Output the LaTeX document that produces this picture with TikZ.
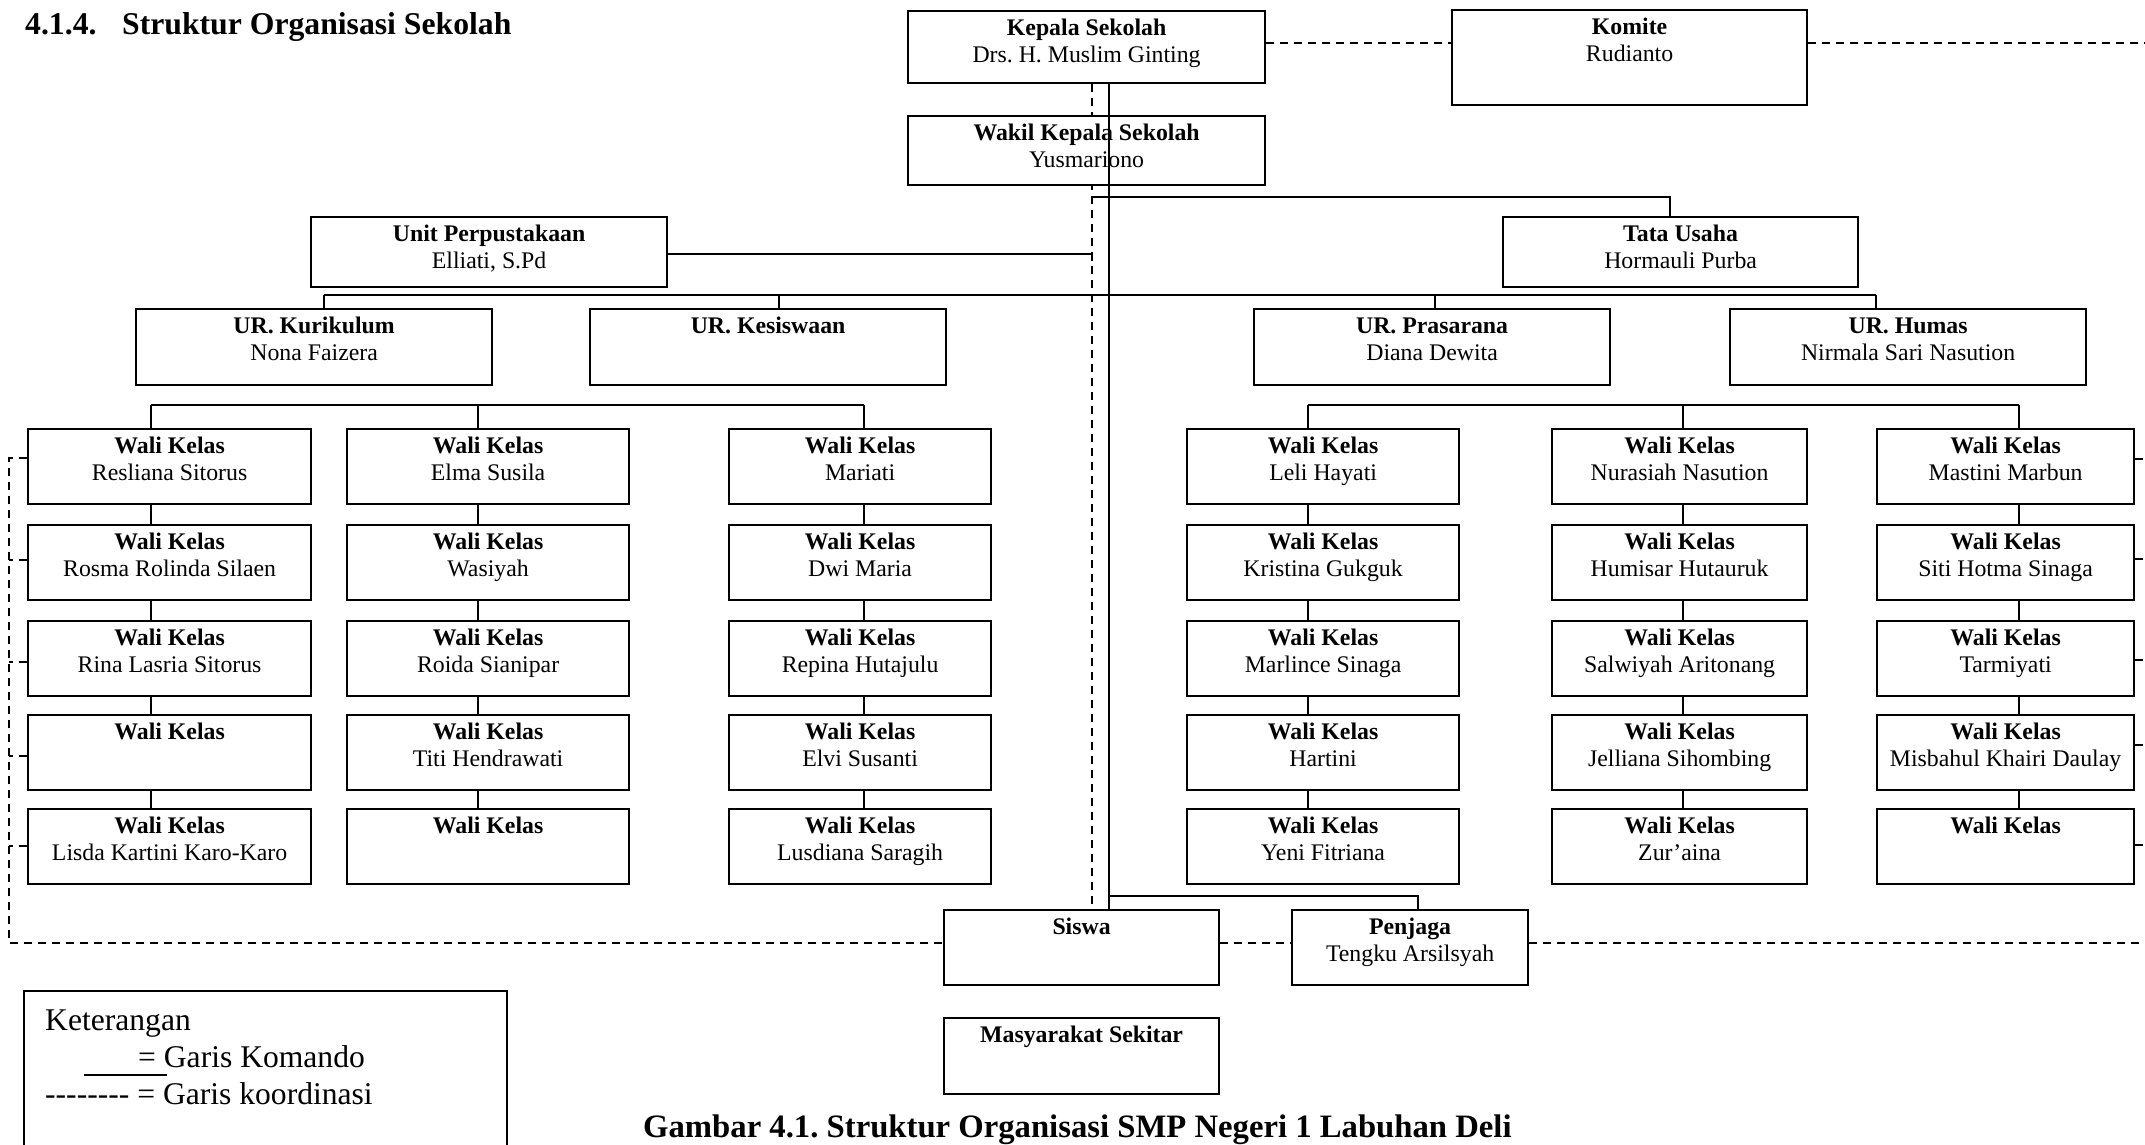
\documentclass[tikz,border=0pt]{standalone}
\usepackage{fontspec}
\setmainfont{Liberation Serif}
\frenchspacing
\pgfdeclarelayer{bg}
\pgfsetlayers{bg,main}
\tikzset{
  obox/.style={draw, line width=2.2pt, fill=white, inner sep=0pt, anchor=north west,
    font=\fontsize{23.8}{27}\selectfont},
  cline/.style={line width=1.8pt},
  dline/.style={line width=1.8pt, dash pattern=on 8pt off 6pt},
  lbl/.style={inner sep=0pt, anchor=base west},
  bigbold/.style={font=\fontsize{31.7}{36}\selectfont\bfseries},
  capbold/.style={font=\fontsize{32.7}{36}\selectfont\bfseries},
  bigreg/.style={font=\fontsize{31.6}{36}\selectfont},
}
\newcommand{\OBox}[7]{%
  \node[obox] (#1) at (#2,#3) {\parbox[c][\dimexpr #5pt-#3pt\relax][t]{\dimexpr #4pt-#2pt\relax}{\centering\rule{0pt}{24pt}\textbf{#6}\if\relax\detokenize{#7}\relax\else\\#7\fi}};}
\begin{document}
\begin{tikzpicture}[x=1pt,y=-1pt]
\useasboundingbox (0,0) rectangle (2145,1145);
\begin{pgfonlayer}{bg}
\fill[white] (0,0) rectangle (2145,1145);
\end{pgfonlayer}

\coordinate (xd) at (1092,0);
\coordinate (xs) at (1109,0);
\coordinate (redge) at (2145,0);
\coordinate (ledge) at (9,0);
\coordinate (ca) at (151,0);
\coordinate (cb) at (478,0);
\coordinate (cc) at (864,0);
\coordinate (cd) at (1308,0);
\coordinate (ce) at (1683,0);
\coordinate (cf) at (2019,0);

% title
\node[lbl, bigbold] (title) at (25,35) {\makebox[97pt][l]{4.1.4.}Struktur Organisasi Sekolah};

% top boxes
\OBox{kepala}{907}{10}{1264}{82}{Kepala Sekolah}{Drs. H. Muslim Ginting}
\OBox{komite}{1451}{9}{1806}{104}{Komite}{Rudianto}
\OBox{wakil}{907}{115}{1264}{184}{Wakil Kepala Sekolah}{Yusmariono}
\OBox{unit}{310}{216}{666}{286}{Unit Perpustakaan}{Elliati, S.Pd}
\OBox{tata}{1502}{216}{1857}{286}{Tata Usaha}{Hormauli Purba}
\OBox{kur}{135}{308}{491}{384}{UR. Kurikulum}{Nona Faizera}
\OBox{kes}{589}{308}{945}{384}{UR. Kesiswaan}{}
\OBox{pras}{1253}{308}{1609}{384}{UR. Prasarana}{Diana Dewita}
\OBox{hum}{1729}{308}{2085}{384}{UR. Humas}{Nirmala Sari Nasution}

% column 1
\OBox{a1}{27}{428}{310}{503}{Wali Kelas}{Resliana Sitorus}
\OBox{a2}{27}{524}{310}{599}{Wali Kelas}{Rosma Rolinda Silaen}
\OBox{a3}{27}{620}{310}{695}{Wali Kelas}{Rina Lasria Sitorus}
\OBox{a4}{27}{714}{310}{789}{Wali Kelas}{}
\OBox{a5}{27}{808}{310}{883}{Wali Kelas}{Lisda Kartini Karo-Karo}
% column 2
\OBox{b1}{346}{428}{628}{503}{Wali Kelas}{Elma Susila}
\OBox{b2}{346}{524}{628}{599}{Wali Kelas}{Wasiyah}
\OBox{b3}{346}{620}{628}{695}{Wali Kelas}{Roida Sianipar}
\OBox{b4}{346}{714}{628}{789}{Wali Kelas}{Titi Hendrawati}
\OBox{b5}{346}{808}{628}{883}{Wali Kelas}{}
% column 3
\OBox{c1}{728}{428}{990}{503}{Wali Kelas}{Mariati}
\OBox{c2}{728}{524}{990}{599}{Wali Kelas}{Dwi Maria}
\OBox{c3}{728}{620}{990}{695}{Wali Kelas}{Repina Hutajulu}
\OBox{c4}{728}{714}{990}{789}{Wali Kelas}{Elvi Susanti}
\OBox{c5}{728}{808}{990}{883}{Wali Kelas}{Lusdiana Saragih}
% column 4
\OBox{d1}{1186}{428}{1458}{503}{Wali Kelas}{Leli Hayati}
\OBox{d2}{1186}{524}{1458}{599}{Wali Kelas}{Kristina Gukguk}
\OBox{d3}{1186}{620}{1458}{695}{Wali Kelas}{Marlince Sinaga}
\OBox{d4}{1186}{714}{1458}{789}{Wali Kelas}{Hartini}
\OBox{d5}{1186}{808}{1458}{883}{Wali Kelas}{Yeni Fitriana}
% column 5
\OBox{e1}{1551}{428}{1806}{503}{Wali Kelas}{Nurasiah Nasution}
\OBox{e2}{1551}{524}{1806}{599}{Wali Kelas}{Humisar Hutauruk}
\OBox{e3}{1551}{620}{1806}{695}{Wali Kelas}{Salwiyah Aritonang}
\OBox{e4}{1551}{714}{1806}{789}{Wali Kelas}{Jelliana Sihombing}
\OBox{e5}{1551}{808}{1806}{883}{Wali Kelas}{Zur’aina}
% column 6
\OBox{f1}{1876}{428}{2133}{503}{Wali Kelas}{Mastini Marbun}
\OBox{f2}{1876}{524}{2133}{599}{Wali Kelas}{Siti Hotma Sinaga}
\OBox{f3}{1876}{620}{2133}{695}{Wali Kelas}{Tarmiyati}
\OBox{f4}{1876}{714}{2133}{789}{Wali Kelas}{Misbahul Khairi Daulay}
\OBox{f5}{1876}{808}{2133}{883}{Wali Kelas}{}

% bottom boxes
\OBox{siswa}{943}{909}{1218}{984}{Siswa}{}
\OBox{penjaga}{1291}{909}{1527}{984}{Penjaga}{Tengku Arsilsyah}
\OBox{masy}{943}{1017}{1218}{1093}{Masyarakat Sekitar}{}

% coordination lines (dashed)
\coordinate (ky) at (0,43);
\draw[dline] (kepala.east |- ky) -- (komite.west |- ky);
\draw[dline] (komite.east |- ky) -- (redge |- ky);
\begin{pgfonlayer}{bg}
\draw[dline] (xd |- kepala.south) -- (xd |- siswa.north);
\end{pgfonlayer}
\coordinate (dy) at (0,943);
\coordinate (t1) at (0,458);
\draw[dline] (a1.west |- t1) -- (ledge |- t1) -- (ledge |- dy) -- (siswa.west |- dy);
\foreach \r/\y in {2/560,3/662,4/756,5/846}{
  \coordinate (tt) at (0,\y);
  \draw[dline] (a\r.west |- tt) -- (ledge |- tt);
}
\foreach \r/\y in {1/459,2/559,3/660,4/745,5/845}{
  \coordinate (tt) at (0,\y);
  \draw[dline] (f\r.east |- tt) -- (redge |- tt);
}
\draw[dline] (siswa.east |- dy) -- (penjaga.west |- dy);
\draw[dline] (penjaga.east |- dy) -- (redge |- dy);

% command lines (solid)
\draw[cline] (xs |- kepala.south) -- (xs |- siswa.north);
\coordinate (jy) at (0,896);
\coordinate (pj) at (1418,896);
\draw[cline] (xs |- jy) -- (pj) -- (pj |- penjaga.north);
\coordinate (ty) at (0,197);
\coordinate (tj) at (1670,197);
\draw[cline] (xd |- ty) -- (tj) -- (tj |- tata.north);
\coordinate (uj) at (1092,254);
\draw[cline] (unit.east |- uj) -- (uj) -- ++(0,7);
\coordinate (dkur) at (324,295);
\coordinate (dkes) at (779,295);
\coordinate (dpras) at (1435,295);
\coordinate (dhum) at (1876,295);
\draw[cline] (dkur) -- (dhum);
\foreach \n in {kur,kes,pras,hum}{
  \draw[cline] (d\n) -- (d\n |- \n.north);
}
\coordinate (ly) at (0,405);
\draw[cline] (ca |- ly) -- (cc |- ly);
\draw[cline] (cd |- ly) -- (cf |- ly);
\foreach \c in {a,b,c,d,e,f}{
  \draw[cline] (c\c |- ly) -- (c\c |- \c1.north);
  \foreach \r [evaluate=\r as \s using int(\r+1)] in {1,2,3,4}{
    \draw[cline] (c\c |- \c\r.south) -- (c\c |- \c\s.north);
  }
}

% legend
\draw[line width=2pt] (24,1150) -- (24,991) -- (507,991) -- (507,1150);
\node[lbl, bigreg] (ket) at (45,1030) {Keterangan};
\node[lbl, bigreg] (kom) at (138,1067) {= Garis Komando};
\draw[line width=1.6pt] (84,1075) -- (167,1075);
\node[lbl, bigreg] (koor) at (45,1104) {-\kern0pt-\kern0pt-\kern0pt-\kern0pt-\kern0pt-\kern0pt-\kern0pt- = Garis koordinasi};

% caption
\node[lbl, capbold] (caption) at (643,1137) {Gambar 4.1. Struktur Organisasi SMP Negeri 1 Labuhan Deli};
\end{tikzpicture}
\end{document}
